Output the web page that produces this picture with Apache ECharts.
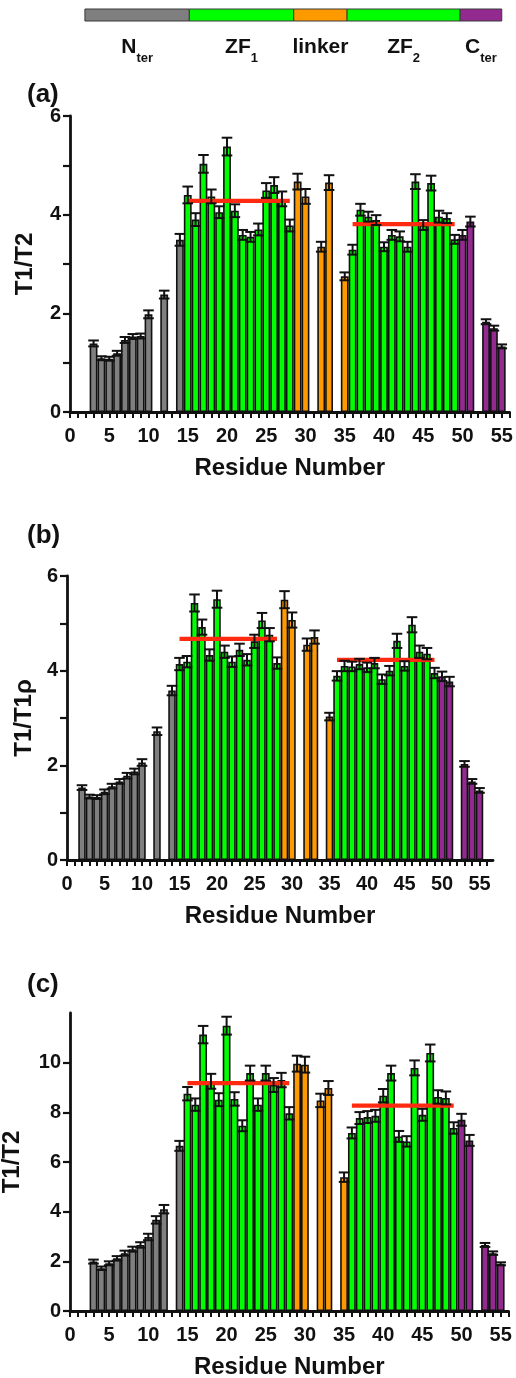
<!DOCTYPE html>
<html><head><meta charset="utf-8">
<script src="https://cdn.jsdelivr.net/npm/echarts@6/dist/echarts.min.js"></script>
<style>html,body{margin:0;padding:0;background:#fff}#c{width:516px;height:1378px}</style>
</head><body><div id="c"></div>
<script>
// ---------------- DATA ----------------
const residuesA = [3,4,5,6,7,8,9,10,12,14,15,16,17,18,19,20,21,22,23,24,25,26,27,28,29,30,32,33,35,36,37,38,39,40,41,42,43,44,45,46,47,48,49,50,51,53,54,55];
const ratioA = [1.39,1.09,1.08,1.19,1.46,1.53,1.54,1.98,2.38,3.49,
  4.40,3.90,5.03,4.37,4.05,5.38,4.08,3.59,3.55,3.70,4.49,4.60,4.32,3.78,
  4.67,4.37,3.35,4.65,2.75,
  3.29,4.10,3.96,3.89,3.35,3.59,3.56,3.35,4.67,3.79,4.64,3.96,3.93,3.50,
  3.59,3.86,1.83,1.70,1.33];
const errorA = [0.06,0.04,0.04,0.05,0.06,0.05,0.05,0.08,0.08,0.12,
  0.17,0.13,0.18,0.14,0.12,0.18,0.13,0.10,0.10,0.12,0.15,0.16,0.15,0.12,
  0.16,0.15,0.10,0.15,0.08,
  0.10,0.12,0.10,0.10,0.09,0.10,0.10,0.10,0.15,0.10,0.15,0.12,0.10,0.09,
  0.10,0.10,0.05,0.05,0.04];

const residuesB = [2,3,4,5,6,7,8,9,10,12,14,15,16,17,18,19,20,21,22,23,24,25,26,27,28,29,30,32,33,35,36,37,38,39,40,41,42,43,44,45,46,47,48,49,50,51,53,54,55];
const ratioB = [1.53,1.34,1.33,1.44,1.56,1.66,1.78,1.87,2.06,2.72,3.58,
  4.14,4.19,5.43,4.92,4.33,5.51,4.40,4.19,4.44,4.23,4.62,5.06,4.76,4.16,
  5.50,5.07,4.55,4.71,3.03,
  3.89,4.10,4.09,4.14,4.07,4.16,3.82,4.00,4.63,4.10,4.97,4.40,4.36,3.95,
  3.88,3.77,2.03,1.66,1.47];
const errorB = [0.05,0.04,0.04,0.05,0.05,0.05,0.06,0.06,0.07,0.08,0.10,
  0.13,0.12,0.18,0.16,0.12,0.18,0.13,0.11,0.13,0.12,0.14,0.16,0.14,0.12,
  0.18,0.16,0.13,0.14,0.08,
  0.10,0.11,0.10,0.11,0.10,0.11,0.10,0.10,0.15,0.10,0.16,0.13,0.12,0.11,
  0.10,0.10,0.06,0.05,0.05];

const residuesC = [3,4,5,6,7,8,9,10,11,12,14,15,16,17,18,19,20,21,22,23,24,25,26,27,28,29,30,32,33,35,36,37,38,39,40,41,42,43,44,45,46,47,48,49,50,51,53,54,55];
const ratioC = [1.99,1.72,1.92,2.12,2.33,2.49,2.66,2.98,3.67,4.10,6.65,
  8.75,8.31,11.13,9.25,8.51,11.49,8.54,7.46,9.58,8.31,9.58,9.10,9.30,7.96,
  9.96,9.92,8.48,8.98,5.39,
  7.17,7.77,7.81,7.86,8.67,9.58,7.03,6.83,9.79,7.90,10.39,8.62,8.58,7.37,
  7.70,6.87,2.66,2.33,1.90];
const errorC = [0.08,0.07,0.08,0.09,0.10,0.10,0.11,0.13,0.15,0.17,0.20,
  0.27,0.25,0.35,0.30,0.26,0.36,0.27,0.22,0.30,0.25,0.30,0.28,0.29,0.25,
  0.32,0.32,0.27,0.28,0.19,
  0.22,0.24,0.24,0.24,0.27,0.30,0.22,0.21,0.30,0.24,0.34,0.27,0.26,0.23,
  0.24,0.22,0.08,0.07,0.06];

// domain mean lines
const meanStartResidue = [15, 36];
const meanEndResidue = [28, 49];
const meanA = [4.28, 3.81];
const meanB = [4.67, 4.23];
const meanC = [9.18, 8.27];

// domains
const domainNames = ['N', 'ZF', 'linker', 'ZF', 'C'];
const domainSubs = ['ter', '1', '', '2', 'ter'];
const domainFirstResidue = [1, 15, 29, 36, 50];
const domainLastResidue = [14, 28, 35, 49, 56];
const topBarStart = [1.9, 15.2, 28.5, 35.3, 49.7];
const topBarEnd = [15.2, 28.5, 35.3, 49.7, 55.0];

// tick labels
const xTickLabels = [0,5,10,15,20,25,30,35,40,45,50,55];
const yTickLabelsA = [0,2,4,6];
const yTickLabelsB = [0,2,4,6];
const yTickLabelsC = [0,2,4,6,8,10];

// ---------------- STYLE ----------------
const COLORS = ['#7f7f7f', '#00ff00', '#ff9900', '#00ff00', '#922a8f'];
const FONT = '"Liberation Sans", Arial, Helvetica, sans-serif';
const INK = '#111';

function domainIndex(r) {
  for (let i = 0; i < domainFirstResidue.length; i++) {
    if (r >= domainFirstResidue[i] && r <= domainLastResidue[i]) return i;
  }
  return 0;
}
function range(a, b, s) { const o = []; for (let v = a; v <= b + 1e-9; v += s) o.push(v); return o; }

const panels = [
  { res: residuesA, val: ratioA, err: errorA, mean: meanA, yName: 'T1/T2', yMax: 6, yLabels: yTickLabelsA, yTickStep: 1,
    grid: { left: 70, top: 116, width: 439.6, height: 296 }, xMax: 56, yNameGap: 33, letter: '(a)', letterY: 96 },
  { res: residuesB, val: ratioB, err: errorB, mean: meanB, yName: 'T1/T1\u03c1', yMax: 6, yLabels: yTickLabelsB, yTickStep: 1,
    grid: { left: 67, top: 576, width: 426, height: 284 }, xMax: 56.8, yNameGap: 29, letter: '(b)', letterY: 537 },
  { res: residuesC, val: ratioC, err: errorC, mean: meanC, yName: 'T1/T2', yMax: 12, yLabels: yTickLabelsC, yTickStep: 2,
    grid: { left: 70, top: 1013, width: 438.5, height: 298 }, xMax: 56, yNameGap: 46, letter: '(c)', letterY: 986, yTickMax: 10 }
];

const grids = [], xAxes = [], yAxes = [], series = [], graphics = [];

panels.forEach((p, i) => {
  grids.push(Object.assign({ outerBoundsMode: 'none', containLabel: false }, p.grid));
  xAxes.push({
    type: 'value', gridIndex: i, min: 0, max: p.xMax,
    name: 'Residue Number', nameLocation: 'middle', nameGap: 44,
    nameTextStyle: { fontSize: 24, fontWeight: 'bold', fontFamily: FONT, color: INK },
    axisLine: { show: true, onZero: false, lineStyle: { color: INK, width: 2.8 } },
    axisTick: { show: true, length: 6, customValues: range(0, 56, 1), lineStyle: { color: INK, width: 2 } },
    axisLabel: { show: true, customValues: xTickLabels, fontSize: 20, fontWeight: 'bold', fontFamily: FONT, color: INK, margin: 14 },
    splitLine: { show: false }
  });
  yAxes.push({
    type: 'value', gridIndex: i, min: 0, max: p.yMax,
    name: p.yName, nameLocation: 'middle', nameGap: p.yNameGap,
    nameTextStyle: { fontSize: 24, fontWeight: 'bold', fontFamily: FONT, color: INK },
    axisLine: { show: true, lineStyle: { color: INK, width: 2.8 } },
    axisTick: { show: true, length: 7, customValues: range(0, p.yTickMax || p.yMax, p.yTickStep), lineStyle: { color: INK, width: 2.2 } },
    axisLabel: { show: true, customValues: p.yLabels, fontSize: 20, fontWeight: 'bold', fontFamily: FONT, color: INK, margin: 9 },
    splitLine: { show: false }
  });
  const bw = p.grid.width / p.xMax;
  series.push({
    type: 'bar', xAxisIndex: i, yAxisIndex: i, barWidth: bw, z: 2,
    data: p.res.map((r, k) => ({ value: [r, p.val[k]], itemStyle: { color: COLORS[domainIndex(r)] } })),
    itemStyle: { borderColor: '#111', borderWidth: 1.6 },
    emphasis: { disabled: true }, animation: false
  });
  series.push({
    type: 'custom', xAxisIndex: i, yAxisIndex: i, z: 4, animation: false,
    data: p.res.map((r, k) => [r, p.val[k], p.err[k]]),
    encode: { x: 0, y: 1 },
    renderItem: (params, api) => {
      const x = api.value(0), v = api.value(1), e = api.value(2);
      const t = api.coord([x, v + e]), b = api.coord([x, v - e]);
      const hw = 5.3;
      const st = { stroke: '#111', lineWidth: 2 };
      return { type: 'group', children: [
        { type: 'line', shape: { x1: t[0], y1: t[1], x2: b[0], y2: b[1] }, style: st },
        { type: 'line', shape: { x1: t[0] - hw, y1: t[1], x2: t[0] + hw, y2: t[1] }, style: st },
        { type: 'line', shape: { x1: b[0] - hw, y1: b[1], x2: b[0] + hw, y2: b[1] }, style: st }
      ]};
    }
  });
  p.mean.forEach((m, k) => {
    series.push({
      type: 'line', xAxisIndex: i, yAxisIndex: i, z: 3, animation: false, symbol: 'none',
      data: [[meanStartResidue[k], m], [meanEndResidue[k], m]],
      lineStyle: { color: '#ff2a10', width: 4.2, cap: 'butt' }
    });
  });
  graphics.push({
    type: 'text', left: 27, top: p.letterY - 14,
    style: { text: p.letter, fontSize: 26, fontWeight: 'bold', fontFamily: FONT, fill: INK }
  });
});

// domain bar on top
grids.push({ left: 70, top: 9, width: 439.6, height: 12, outerBoundsMode: 'none', containLabel: false });
xAxes.push({ type: 'value', gridIndex: 3, min: 0, max: 56, show: false });
yAxes.push({ type: 'value', gridIndex: 3, min: 0, max: 1, show: false });
series.push({
  type: 'custom', xAxisIndex: 3, yAxisIndex: 3, animation: false, clip: false,
  data: topBarStart.map((s, i) => [s, topBarEnd[i], i]),
  encode: { x: [0, 1] },
  renderItem: (params, api) => {
    const i = api.value(2);
    const p0 = api.coord([api.value(0), 1]);
    const p1 = api.coord([api.value(1), 0]);
    const sub = domainSubs[i];
    const text = sub ? '{m|' + domainNames[i] + '}{s|' + sub + '}' : '{m|' + domainNames[i] + '}';
    return { type: 'group', children: [
      { type: 'rect', shape: { x: p0[0], y: p0[1], width: p1[0] - p0[0], height: p1[1] - p0[1] },
        style: { fill: COLORS[i], stroke: '#3a3a3a', lineWidth: 1 } },
      { type: 'text', x: (p0[0] + p1[0]) / 2, y: 51,
        style: { text: text, align: 'center', verticalAlign: 'middle',
          rich: {
            m: { fontSize: 21, fontWeight: 'bold', fontFamily: FONT, fill: INK, lineHeight: 28, verticalAlign: 'top' },
            s: { fontSize: 13, fontWeight: 'bold', fontFamily: FONT, fill: INK, lineHeight: 12, verticalAlign: 'bottom' }
          } } }
    ]};
  }
});

const chart = echarts.init(document.getElementById('c'), null, { renderer: 'canvas' });
chart.setOption({
  animation: false,
  backgroundColor: '#fff',
  grid: grids, xAxis: xAxes, yAxis: yAxes, series: series,
  graphic: graphics
});
</script>
</body></html>
